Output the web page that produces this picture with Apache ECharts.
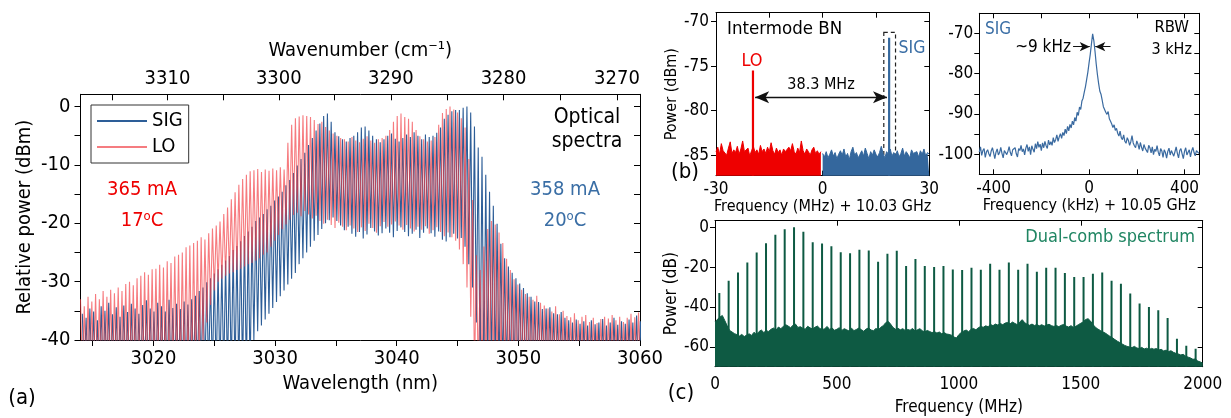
<!DOCTYPE html>
<html><head><meta charset="utf-8">
<script src="https://cdn.jsdelivr.net/npm/echarts@6/dist/echarts.min.js"></script>
<style>html,body{margin:0;padding:0;background:#fff}#c{width:1231px;height:418px}</style>
</head><body><div id="c"></div><script>
// ---------------- Panel (a): optical spectra ----------------
const WL_STEP = 0.31;            // comb mode spacing (nm)
const LO_WL_START = 3014.0;
const SIG_WL_START = 3014.15;
const WN_LABELS = [3310, 3300, 3290, 3280, 3270];
const WN_TICKS = [3315, 3310, 3305, 3300, 3295, 3290, 3285, 3280, 3275, 3270];
const WL_LABELS = [3020, 3030, 3040, 3050, 3060];
const WL_TICKS = [3015, 3020, 3025, 3030, 3035, 3040, 3045, 3050, 3055, 3060];
const A_Y_LABELS = [-40, -30, -20, -10, 0];
const A_Y_TICKS = [-40, -35, -30, -25, -20, -15, -10, -5, 0];

const LO_PEAKS = [
-33.0,-34.2,-32.6,-33.4,-32.1,-33.0,-31.6,-32.6,-31.4,-32.0,
-31.0,-31.6,-30.4,-30.0,-30.6,-29.4,-29.0,-28.4,-28.8,-27.9,
-27.8,-27.1,-27.6,-26.5,-26.8,-25.7,-25.4,-25.0,-24.1,-23.8,
-23.4,-23.0,-22.4,-22.8,-21.7,-20.9,-20.4,-19.7,-18.4,-17.3,
-15.9,-14.7,-13.4,-12.4,-11.7,-11.1,-10.9,-10.7,-11.2,-10.8,
-11.0,-10.6,-10.9,-10.4,-10.8,-6.2,-3.1,-2.0,-1.7,-1.5,
-1.6,-1.8,-2.3,-3.0,-2.6,-3.5,-4.1,-4.6,-5.0,-5.4,
-5.6,-6.0,-5.2,-5.8,-6.1,-5.5,-5.1,-5.8,-6.2,-5.6,
-5.4,-5.0,-4.0,-2.6,-1.6,-1.2,-1.8,-2.1,-2.6,-4.0,
-5.1,-5.6,-6.0,-5.8,-5.2,-3.1,-1.1,-0.4,0.0,-0.5,
-1.0,-2.0,-3.6,-9.0,-16.0,-25.5,-28.0,-24.0,-21.0,-19.6,
-20.2,-21.6,-23.4,-26.1,-28.0,-29.6,-30.5,-31.4,-32.1,-32.6,
-33.1,-32.4,-33.6,-34.1,-34.6,-35.1,-34.2,-35.6,-35.0,-35.9,
-36.1,-35.4,-36.6,-36.0,-35.7,-36.9,-36.2,-37.1,-36.4,-36.0,
-36.3,-35.7,-36.6,-36.0,-36.9,-36.2,-35.5,-36.1,-35.3];
const LO_VALLEYS = [
-46,-46,-46,-46,-46,-46,-46,-46,-46,-46,-46,-46,-46,-46,-46,-46,
-46,-46,-46,-46,-46,-46,-46,-46,-46,-46,-46,-46,-46,-46,-46,-46,
-40,-37,-34,-31.5,-30,-29.5,-29,-28.6,-28.4,-28,-27.8,-27.4,-27,-26.8,
-26.4,-26,-25.4,-25,-24,-23,-22,-21,-20.2,-19.4,
-18.6,-18.2,-18.8,-17.9,-18.5,-19.2,-18.7,-19.6,-20.1,-19.4,-20.3,-20.8,-19.9,-20.6,
-21.2,-20.4,-20.9,-21.5,-20.7,-21.3,-20.1,-20.8,-21.6,-20.5,
-19.8,-20.6,-20.2,-19.7,-20.4,-21.1,-20.3,-20.9,-21.4,-20.6,
-21.1,-20.5,-21.8,-21.2,-20.7,-21.5,-22.2,-21.6,-22.4,-23.0,
-24.5,-27,-31,-36,
-46,-46,-46,-46,-46,-46,-46,-46,-46,-46,-46,-46,-46,-46,-46,
-46,-46,-46,-46,-46,-46,-46,-46,-46,-46,-46,-46,-46,-46,-46,
-46,-46,-46,-46,-46,-46,-46,-46,-46,-46,-46,-46,-46,-46,-46];

const SIG_PEAKS = [
-35.5,-36.2,-34.6,-35.1,-36.6,-34.2,-35.0,-33.6,-35.6,-34.4,
-36.0,-34.1,-35.2,-33.8,-34.6,-35.5,-34.0,-33.2,-34.6,-35.1,
-33.6,-34.2,-35.1,-33.1,-34.5,-33.8,-34.7,-33.4,-33.9,-33.0,
-32.4,-31.6,-31.0,-30.1,-29.4,-28.6,-27.9,-27.1,-26.4,-25.6,
-24.6,-23.9,-23.1,-22.2,-21.4,-20.6,-19.6,-19.0,-18.4,-17.6,
-17.0,-16.1,-15.4,-14.6,-13.5,-12.6,-11.4,-10.1,-9.0,-7.9,
-6.6,-5.4,-4.1,-2.9,-1.6,-1.2,-2.6,-4.4,-5.1,-5.6,
-6.0,-5.4,-5.0,-4.4,-3.6,-3.4,-4.1,-5.0,-5.6,-6.1,
-5.6,-5.0,-4.6,-5.5,-6.0,-5.4,-4.8,-5.2,-4.4,-5.0,
-5.6,-4.8,-5.2,-5.0,-4.5,-3.6,-2.1,-1.4,-0.8,-0.6,
-0.6,-0.2,0.0,-1.0,-3.4,-7.0,-8.6,-11.7,-14.6,-17.0,
-20.1,-23.5,-26.0,-27.4,-28.5,-29.4,-30.3,-31.1,-32.0,-32.6,
-33.4,-33.5,-34.7,-34.6,-34.4,-35.4,-35.6,-35.2,-36.2,-36.6,
-37.0,-36.5,-37.2,-36.8,-37.5,-36.6,-37.3,-37.0,-36.4,-37.5,
-37.0,-36.2,-37.4,-36.8,-37.2,-36.5,-37.0,-35.8,-36.8];
const SIG_VALLEYS = [
-46,-46,-46,-46,-46,-46,-46,-46,-46,-46,-46,-46,-46,-46,-46,
-46,-46,-46,-46,-46,-46,-46,-46,-46,-46,-46,-46,-46,-46,-46,
-46,-46,-46,-46,-46,-46,-46,-46,-46,-46,-46,-46,-46,-46,-46,
-40,-38.5,-37.5,-36.5,-35.5,-34.5,-33.5,-32.5,-31.5,-30.5,-29.5,-28.5,
-27,-26,-25,-24,-23,-22,-21,-20,-19.5,-19,-19.6,
-20.4,-21.2,-20.6,-21.8,-22.3,-21.5,-22.6,-21.9,-20.8,-21.4,
-22.1,-21.7,-20.9,-21.6,-22.4,-21.3,-20.7,-21.5,-22.2,-21.8,
-21.1,-22.5,-21.6,-20.9,-21.7,-22.3,-21.4,-22.8,-23.1,-22.4,
-21.8,-22.6,
-22.5,-24,-27,-31,-37,
-46,-46,-46,-46,-46,-46,-46,-46,-46,-46,-46,
-46,-46,-46,-46,-46,-46,-46,-46,-46,-46,-46,
-46,-46,-46,-46,-46,-46,-46,-46,-46,-46,-46,
-46,-46,-46,-46,-46,-46,-46,-46,-46,-46,-46];

// ---------------- Panel (b) left: intermode beat notes ----------------
const B1_X_LABELS = [-30, 0, 30];
const B1_X_TICKS = [-30, -15, 0, 15, 30];
const B1_Y_LABELS = [-85, -80, -75, -70];
const B1_STEP = 0.5;                 // MHz sampling
const B1_RED_START = -30;
const B1_BLUE_START = 0;
const B1_RED_NOISE = [
-84.6,-84.1,-84.9,-83.7,-84.5,-84.3,-85.0,-84.2,-83.5,-84.8,
-84.4,-84.7,-84.0,-84.9,-84.3,-83.4,-84.6,-84.8,-84.2,-85.1,
-84.5,-84.0,-84.7,-84.4,-84.9,-83.9,-84.6,-84.3,-84.8,-84.1,
-84.6,-83.6,-84.5,-84.9,-84.2,-84.7,-84.4,-85.0,-84.3,-84.6,
-84.8,-84.1,-84.5,-83.7,-84.6,-84.9,-84.2,-84.7,-83.4,-84.5,
-84.9,-84.3,-84.6,-85.0,-84.4,-84.1,-84.8,-84.5,-84.9,-84.6];
const B1_BLUE_NOISE = [
-84.8,-85.2,-84.6,-85.3,-84.9,-84.4,-85.1,-84.7,-85.4,-84.9,
-84.5,-85.0,-84.3,-85.2,-84.8,-85.5,-84.6,-84.1,-85.0,-84.7,
-85.3,-84.9,-84.5,-85.1,-84.2,-84.8,-85.4,-84.6,-85.0,-84.4,
-84.9,-85.2,-84.7,-84.0,-84.8,-85.3,-84.6,-84.9,-84.3,-85.1,
-84.7,-85.0,-84.5,-85.2,-84.8,-84.2,-85.1,-84.6,-84.9,-85.3,
-84.4,-84.8,-85.0,-84.6,-85.2,-84.5,-84.9,-84.3,-85.1,-84.7,
-84.9];
const LO_BEAT = [-19.6, -75.5];     // [MHz, dBm]
const SIG_BEAT = [18.7, -71.8];

// ---------------- Panel (b) right: SIG beat note ----------------
const B2_X_LABELS = [-400, 0, 400];
const B2_X_TICKS = [-400, -200, 0, 200, 400];
const B2_Y_LABELS = [-100, -90, -80, -70];
const B2_STEP = 5;                  // kHz sampling
const B2_START = -460;
const B2_POWER = [
-99.5,-98.2,-100.3,-99.1,-98.6,-100.8,-99.4,-98.9,-99.9,-100.6,
-99.2,-98.4,-99.7,-101.1,-99.5,-98.7,-100.2,-99.6,-98.3,-99.8,
-100.9,-99.1,-98.8,-100.1,-99.3,-98.1,-99.6,-100.4,-98.9,-99.2,
-98.4,-99.9,-100.7,-98.6,-99.1,-97.8,-99.4,-98.7,-100.2,-98.5,
-97.6,-99.3,-98.2,-100.1,-97.9,-98.8,-99.5,-97.4,-98.6,-96.9,
-98.3,-97.5,-99.1,-97.2,-98.4,-96.8,-97.9,-98.6,-96.5,-97.7,
-96.9,-97.8,-95.9,-97.1,-96.4,-95.2,-96.8,-95.7,-94.9,-96.1,
-94.6,-95.4,-93.8,-94.9,-93.1,-94.2,-92.6,-93.5,-91.8,-92.7,
-90.9,-91.8,-89.6,-90.4,-88.3,-88.9,-86.8,-86.1,-84.6,-83.2,
-81.4,-79.6,-77.3,-75.2,-72.6,-70.1,-71.8,-74.5,-77.6,-80.2,
-82.4,-84.3,-85.1,-86.6,-88.2,-87.9,-89.6,-90.1,-89.4,-91.2,
-91.8,-92.5,-93.4,-92.7,-94.1,-93.6,-94.8,-95.5,-94.3,-95.9,
-96.4,-95.2,-96.8,-97.3,-95.9,-96.6,-97.8,-96.9,-95.4,-97.2,
-97.9,-98.4,-96.7,-97.5,-98.8,-97.1,-98.3,-99.2,-97.6,-98.5,
-98.9,-99.6,-97.8,-98.4,-99.7,-98.2,-100.1,-98.8,-99.3,-97.9,
-99.5,-100.4,-98.6,-99.2,-100.8,-98.9,-99.6,-101.0,-99.3,-98.5,
-100.2,-99.1,-98.7,-100.5,-99.4,-98.2,-99.8,-100.9,-99.1,-98.6,
-99.9,-101.1,-99.3,-98.4,-100.2,-99.5,-98.9,-100.7,-99.2,-98.3,
-99.6,-100.4,-99.1,-98.7,-99.8];

// ---------------- Panel (c): dual-comb spectrum ----------------
const C_X_LABELS = [0, 500, 1000, 1500, 2000];
const C_Y_LABELS = [-60, -40, -20, 0];
const C_STEP = 10;                  // MHz sampling of noise floor
const C_FLOOR = [
-47.5,-46.2,-45.1,-44.3,-46.8,-49.5,-51.8,-52.6,-53.4,-53.9,
-54.6,-53.8,-54.9,-54.1,-53.5,-54.3,-52.7,-53.9,-52.4,-51.6,
-52.8,-51.9,-52.3,-51.2,-50.6,-51.7,-50.1,-50.9,-49.8,-48.9,
-49.6,-50.4,-49.2,-48.6,-50.3,-49.9,-50.7,-51.2,-49.7,-50.5,
-51.1,-50.2,-49.6,-50.8,-51.4,-50.9,-49.8,-51.3,-50.6,-51.7,
-51.2,-50.4,-51.8,-50.9,-51.5,-52.1,-50.7,-51.9,-51.3,-50.6,
-51.4,-52.2,-51.1,-50.5,-51.6,-51.9,-50.8,-51.5,-50.2,-49.4,
-47.9,-47.2,-48.6,-50.3,-51.2,-50.7,-51.5,-50.9,-51.8,-51.3,
-51.7,-50.8,-52.1,-51.5,-50.9,-51.9,-52.6,-51.8,-52.3,-52.9,
-52.4,-53.1,-52.6,-53.5,-52.9,-53.6,-53.8,-54.2,-55.1,-55.6,
-53.9,-52.8,-52.1,-51.6,-52.4,-51.3,-50.8,-51.5,-50.4,-49.8,
-50.2,-49.5,-49.9,-48.8,-49.4,-48.6,-49.1,-48.3,-48.9,-48.1,
-47.8,-48.5,-47.6,-48.3,-48.9,-47.5,-46.4,-47.9,-48.7,-49.2,
-48.6,-49.3,-48.8,-49.5,-48.9,-49.6,-49.1,-48.7,-49.4,-49.8,
-49.3,-49.9,-49.2,-48.8,-49.6,-50.1,-49.4,-50.3,-49.7,-48.9,
-48.2,-47.5,-46.3,-45.9,-47.1,-48.8,-50.2,-51.1,-51.8,-52.5,
-53.1,-53.9,-54.8,-55.5,-56.4,-57.2,-57.9,-58.6,-59.3,-59.8,
-60.1,-60.4,-59.8,-60.6,-60.9,-60.3,-61.1,-60.7,-61.4,-60.8,
-61.2,-60.9,-61.6,-61.3,-62.1,-61.7,-62.4,-62.0,-62.8,-63.3,
-63.6,-64.1,-63.8,-64.7,-65.2,-65.6,-66.3,-66.1,-67.2,-67.6,
-68.2];
const C_LINE_FREQ = [17.7,56.0,94.3,132.6,170.9,209.2,247.5,285.8,324.1,362.4,
400.7,439.0,477.3,515.6,553.9,592.2,630.5,668.8,707.1,745.4,
783.7,822.0,860.3,898.6,936.9,975.2,1013.5,1051.8,1090.1,1128.4,
1166.7,1205.0,1243.3,1281.6,1319.9,1358.2,1396.5,1434.8,1473.1,1511.4,
1549.7,1588.0,1626.3,1664.6,1702.9,1741.2,1779.5,1817.8,1856.1,1894.4,
1932.7,1971.0];
const C_LINE_POWER = [-33,-26.8,-22.7,-17.7,-12.7,-8,-3.8,-1,0,-2.2,
-7.5,-8.2,-9.5,-12.5,-13,-11.3,-11.7,-17.3,-13.3,-11.8,
-19.5,-15.9,-19.5,-20,-19.5,-21.2,-21.5,-20.3,-21.3,-18.3,
-21.3,-17.7,-21.3,-18.3,-22.3,-20.3,-20.3,-23,-25,-25,
-23.3,-22.7,-26.8,-28.3,-33.3,-38.3,-40,-41.7,-45.5,-56,
-59.5,-61];

// ---------------- build ----------------
const FONT = "'DejaVu Sans Condensed','Noto Sans',sans-serif";
function zigzag(start, step, peaks, valleys) {
  const d = [];
  for (let i = 0; i < peaks.length; i++) {
    const x = start + i * step;
    d.push([x, peaks[i]]);
    d.push([x + step / 2, valleys[i]]);
  }
  return d;
}
function sampled(start, step, vals) { return vals.map((v, i) => [start + i * step, v]); }
const plain = (v) => String(Math.round(v * 1000) / 1000);

function xAx(grid, min, max, pos, labels, ticks, o) {
  const a = {
    type: 'value', gridIndex: grid, min: min, max: max, position: pos,
    axisLine: { show: true, onZero: false, lineStyle: { color: '#000', width: 1 } },
    splitLine: { show: false },
    axisTick: { show: true, inside: o.inside || false, length: o.tickLen || 5, customValues: ticks, lineStyle: { color: '#000' } },
    axisLabel: labels ? { show: true, customValues: labels, fontSize: o.fs, color: '#000', fontFamily: FONT, margin: o.margin, formatter: o.formatter || plain } : { show: false },
  };
  if (o.name) {
    a.name = o.name; a.nameLocation = 'middle'; a.nameGap = o.nameGap;
    a.nameTextStyle = { fontSize: o.nfs, color: '#000', fontFamily: FONT };
  }
  return a;
}
function yAx(grid, min, max, pos, labels, ticks, o) {
  const a = xAx(grid, min, max, pos, labels, ticks, o);
  if (o.name) a.nameRotate = 90;
  return a;
}

const wnToWl = (w) => 1e7 / w;

const xAxis = [
  xAx(0, 3014, 3060, 'bottom', WL_LABELS, WL_TICKS, { fs: 20, margin: 9, tickLen: 6, name: 'Wavelength (nm)', nameGap: 33, nfs: 20 }),
  xAx(0, 3014, 3060, 'top', WN_LABELS.map(wnToWl), WN_TICKS.map(wnToWl), { fs: 20, margin: 6, inside: true, tickLen: 6, formatter: (v) => String(Math.round(1e7 / v)), name: 'Wavenumber (cm⁻¹)', nameGap: 34, nfs: 20 }),
  xAx(1, -30, 30, 'bottom', B1_X_LABELS, B1_X_TICKS, { fs: 17, margin: 5, inside: true, name: 'Frequency (MHz) + 10.03 GHz', nameGap: 23, nfs: 16 }),
  xAx(1, -30, 30, 'top', null, B1_X_TICKS, { inside: true }),
  xAx(2, -460, 462, 'bottom', B2_X_LABELS, B2_X_TICKS, { fs: 17, margin: 6, inside: true, name: 'Frequency (kHz) + 10.05 GHz', nameGap: 24, nfs: 16 }),
  xAx(2, -460, 462, 'top', null, B2_X_TICKS, { inside: true }),
  xAx(3, 0, 2000, 'bottom', C_X_LABELS, C_X_LABELS, { fs: 17, margin: 9, inside: true, name: 'Frequency (MHz)', nameGap: 32, nfs: 17 }),
  xAx(3, 0, 2000, 'top', null, C_X_LABELS, { inside: true }),
];
const yAxis = [
  yAx(0, -40, 2.1, 'left', A_Y_LABELS, A_Y_TICKS, { fs: 20, margin: 10, tickLen: 6, name: 'Relative power (dBm)', nameGap: 46, nfs: 20 }),
  yAx(0, -40, 2.1, 'right', null, A_Y_TICKS, { inside: true, tickLen: 6 }),
  yAx(1, -87.3, -69, 'left', B1_Y_LABELS, B1_Y_LABELS, { fs: 17, margin: 7, name: 'Power (dBm)', nameGap: 30, nfs: 16 }),
  yAx(1, -87.3, -69, 'right', null, B1_Y_LABELS, { inside: true }),
  yAx(2, -105, -65, 'left', B2_Y_LABELS, [-100, -95, -90, -85, -80, -75, -70], { fs: 17, margin: 6 }),
  yAx(2, -105, -65, 'right', null, [-100, -95, -90, -85, -80, -75, -70], { inside: true }),
  yAx(3, -70, 3.3, 'left', C_Y_LABELS, C_Y_LABELS, { fs: 17, margin: 6, name: 'Power (dB)', nameGap: 34, nfs: 17 }),
  yAx(3, -70, 3.3, 'right', null, C_Y_LABELS, { inside: true }),
];

function spike(yBottom, w, color) {
  return function (params, api) {
    const top = api.coord([api.value(0), api.value(1)]);
    const bot = api.coord([api.value(0), yBottom]);
    return { type: 'rect', shape: { x: top[0] - w / 2, y: top[1], width: w, height: bot[1] - top[1] }, style: { fill: color } };
  };
}

const RED = '#ee0000', BLUE_B = '#34679d', GREEN = '#0e5a43';

const series = [
  { name: 'SIG', type: 'line', xAxisIndex: 0, yAxisIndex: 0, showSymbol: false, clip: true,
    data: zigzag(SIG_WL_START, WL_STEP, SIG_PEAKS, SIG_VALLEYS),
    lineStyle: { width: 1.1, color: '#2d5e98' }, itemStyle: { color: '#2d5e98' } },
  { name: 'LO', type: 'line', xAxisIndex: 0, yAxisIndex: 0, showSymbol: false, clip: true,
    data: zigzag(LO_WL_START, WL_STEP, LO_PEAKS, LO_VALLEYS),
    lineStyle: { width: 1.1, color: 'rgba(242,60,66,0.68)' }, itemStyle: { color: 'rgba(242,80,86,0.75)' } },

  { name: 'b-lo-noise', type: 'line', xAxisIndex: 2, yAxisIndex: 2, showSymbol: false, clip: true,
    data: sampled(B1_RED_START, B1_STEP, B1_RED_NOISE),
    lineStyle: { width: 1, color: RED }, areaStyle: { color: RED, opacity: 1, origin: 'start' },
    markLine: { silent: true, symbol: ['arrow', 'arrow'], symbolSize: [9, 14],
      lineStyle: { color: '#111', width: 1.3, type: 'solid' },
      label: { show: true, position: 'insideMiddleTop', distance: 4, formatter: '38.3 MHz', fontSize: 16, color: '#000', fontFamily: FONT },
      data: [[{ coord: [-19.0, -78.5] }, { coord: [18.1, -78.5] }]] } },
  { name: 'b-sig-noise', type: 'line', xAxisIndex: 2, yAxisIndex: 2, showSymbol: false, clip: true,
    data: sampled(B1_BLUE_START, B1_STEP, B1_BLUE_NOISE),
    lineStyle: { width: 1, color: BLUE_B }, areaStyle: { color: BLUE_B, opacity: 1, origin: 'start' },
    markArea: { silent: true, itemStyle: { color: 'rgba(0,0,0,0)', borderColor: '#222', borderWidth: 1.2, borderType: [4, 3] },
      data: [[{ coord: [17.2, -71.2] }, { coord: [20.5, -86.6] }]] } },
  { name: 'b-lo-beat', type: 'custom', xAxisIndex: 2, yAxisIndex: 2, clip: true, data: [LO_BEAT], renderItem: spike(-87.3, 2.2, RED) },
  { name: 'b-sig-beat', type: 'custom', xAxisIndex: 2, yAxisIndex: 2, clip: true, data: [SIG_BEAT], renderItem: spike(-87.3, 2.2, BLUE_B) },

  { name: 'b2', type: 'line', xAxisIndex: 4, yAxisIndex: 4, showSymbol: false, clip: true,
    data: sampled(B2_START, B2_STEP, B2_POWER),
    lineStyle: { width: 1.2, color: '#3a6aa0' },
    markLine: { silent: true, lineStyle: { color: '#111', width: 1, type: 'solid' }, label: { show: false }, symbolSize: [7, 10],
      data: [
        [{ coord: [-67, -73.3], symbol: 'none' }, { coord: [3, -73.3], symbol: 'arrow' }],
        [{ coord: [90, -73.3], symbol: 'none' }, { coord: [26, -73.3], symbol: 'arrow' }]
      ] } },

  { name: 'c-floor', type: 'line', xAxisIndex: 6, yAxisIndex: 6, showSymbol: false, clip: true,
    data: sampled(0, C_STEP, C_FLOOR),
    lineStyle: { width: 1, color: GREEN }, areaStyle: { color: GREEN, opacity: 1, origin: 'start' } },
  { name: 'c-lines', type: 'custom', xAxisIndex: 6, yAxisIndex: 6, clip: true,
    data: C_LINE_FREQ.map((f, i) => [f, C_LINE_POWER[i]]), renderItem: spike(-70, 2, GREEN) },
];

function txt(text, x, y, size, color, align, rich) {
  const s = { text: text, fill: color || '#000', font: size + 'px ' + FONT, align: align || 'center', verticalAlign: 'middle', textAlign: align || 'center', textVerticalAlign: 'middle' };
  if (rich) s.rich = rich;
  return { type: 'text', x: x, y: y, style: s, silent: true, z: 100 };
}
const supRich = (c) => ({ s: { fontSize: 13, fontFamily: FONT, fill: c, verticalAlign: 'top', padding: [0, 0, 9, 0] } });

const graphic = [
  txt('(a)', 22, 398, 22),
  txt('365 mA', 142, 190, 20, '#ee0000'),
  txt('17{s|o}C', 142, 221, 20, '#ee0000', 'center', supRich('#ee0000')),
  txt('358 mA', 565, 190, 20, '#3a6ea5'),
  txt('20{s|o}C', 565, 221, 20, '#3a6ea5', 'center', supRich('#3a6ea5')),
  txt('Optical', 587, 118, 21),
  txt('spectra', 587, 142, 21),
  txt('(b)', 685, 172, 22),
  txt('Intermode BN', 727, 29, 18.5, '#000', 'left'),
  txt('LO', 752, 61, 18, '#ee0000'),
  txt('SIG', 912, 48, 17.5, '#3a6ea5'),
  txt('SIG', 985, 30, 17, '#3a6ea5', 'left'),
  txt('RBW', 1189, 28, 16.5, '#000', 'right'),
  txt('3 kHz', 1192, 50, 16, '#000', 'right'),
  txt('~9 kHz', 1071, 48, 17, '#000', 'right'),
  txt('(c)', 681, 393, 22),
  txt('Dual-comb spectrum', 1195, 237, 18, '#1f8562', 'right'),
];

const chart = echarts.init(document.getElementById('c'), null, { renderer: 'canvas' });
chart.setOption({
  animation: false,
  backgroundColor: '#fff',
  textStyle: { fontFamily: FONT },
  grid: [
    { left: 80.5, top: 94.3, width: 559.5, height: 245.7, outerBoundsMode: 'none' },
    { left: 716, top: 12.7, width: 213.3, height: 163, outerBoundsMode: 'none' },
    { left: 979.3, top: 13.3, width: 220, height: 161, outerBoundsMode: 'none' },
    { left: 715, top: 220.7, width: 487.7, height: 146, outerBoundsMode: 'none' },
  ],
  legend: {
    data: ['SIG', 'LO'], left: 91, top: 105, orient: 'vertical', icon: 'rect',
    itemWidth: 50, itemHeight: 2, itemGap: 6, padding: [6, 6, 6, 6],
    borderColor: '#333', borderWidth: 1, selectedMode: false,
    textStyle: { fontSize: 20, color: '#000', fontFamily: FONT }
  },
  xAxis: xAxis, yAxis: yAxis, series: series, graphic: graphic
});
</script></body></html>
